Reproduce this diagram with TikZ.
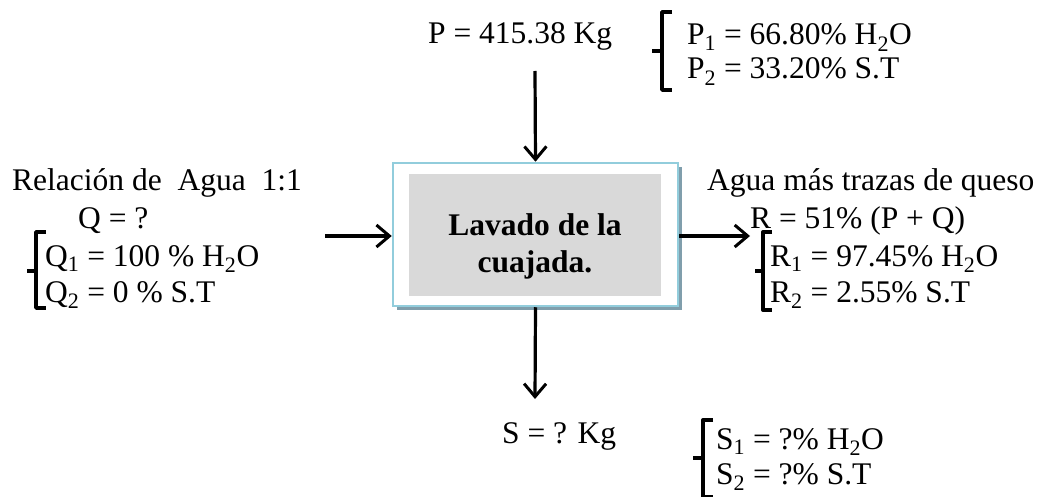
\documentclass[tikz,border=0pt]{standalone}
\usepackage{fontspec}
\setmainfont{Liberation Serif}
\usetikzlibrary{arrows.meta}
\definecolor{boxblue}{RGB}{146,205,220}
\definecolor{shadowc}{RGB}{128,158,172}
\definecolor{innergray}{RGB}{217,217,217}
\begin{document}
\begin{tikzpicture}[x=1pt,y=-1pt,
  lbl/.style={anchor=base west,inner sep=0pt,font=\fontsize{31.5}{36}\selectfont},
  flow/.style={line width=3.2pt,-{Straight Barb[length=13pt,width=22pt,line width=3pt]}},
  brk/.style={line width=3.4pt,line cap=butt,line join=round}]
\useasboundingbox (0,0) rectangle (1058,497);
% process box
\fill[shadowc] (397,167) rectangle (682,310);
\node[draw=boxblue,line width=2.5pt,fill=white,minimum width=285pt,minimum height=143pt,inner sep=0pt] (box) at (535.5,234.5) {};
\node[fill=innergray,minimum width=252pt,minimum height=122pt,inner sep=0pt] (inner) at (535,235) {};
\node[inner sep=0pt,align=center,font=\fontsize{31.5}{37}\selectfont\bfseries] (lab) at (535,246) {Lavado de la\\cuajada.};
% connector ends
\coordinate (ptop) at (535,71);
\coordinate (qin) at (325,236);
\coordinate (rout) at (750,236);
\coordinate (sout) at (535,399);
\draw[flow] (ptop) -- (box.north);
\draw[flow] (qin) -- (box.west |- qin);
\draw[flow] (box.east |- rout) -- (rout);
\draw[flow] (box.south) -- (sout);
% P
\node[lbl] (p) at (428,44) {P = 415.38 Kg};
\node[lbl] (p1) at (687,45) {P\textsubscript{1} = 66.80\% H\textsubscript{2}O};
\node[lbl] (p2) at (687,79) {P\textsubscript{2} = 33.20\% S.T};
\draw[brk] (672,12) -- (662,12) -- (662,90) -- (672,90) (662,51) -- (652,51);
% Q
\node[lbl] (qt) at (12,191) {Relación de\ \ Agua\ \ 1:1};
\node[lbl] (q) at (78,229) {Q = ?};
\node[lbl] (q1) at (45,266) {Q\textsubscript{1} = 100 \% H\textsubscript{2}O};
\node[lbl] (q2) at (45,302) {Q\textsubscript{2} = 0 \% S.T};
\draw[brk] (46,232) -- (36,232) -- (36,308) -- (46,308) (36,271) -- (27,271);
% R
\node[lbl] (rt) at (707,191) {Agua más trazas de queso};
\node[lbl] (r) at (750,229) {R = 51\% (P + Q)};
\node[lbl] (r1) at (770,266) {R\textsubscript{1} = 97.45\% H\textsubscript{2}O};
\node[lbl] (r2) at (770,302) {R\textsubscript{2} = 2.55\% S.T};
\draw[brk] (772,232) -- (763,232) -- (763,310) -- (772,310) (763,271) -- (755,271);
% S
\node[lbl] (s) at (502,443) {S = ? Kg};
\node[lbl] (s1) at (716,449) {S\textsubscript{1} = ?\% H\textsubscript{2}O};
\node[lbl] (s2) at (716,484) {S\textsubscript{2} = ?\% S.T};
\draw[brk] (713,420) -- (703,420) -- (703,497) -- (713,497) (703,458) -- (693,458);
\end{tikzpicture}
\end{document}
